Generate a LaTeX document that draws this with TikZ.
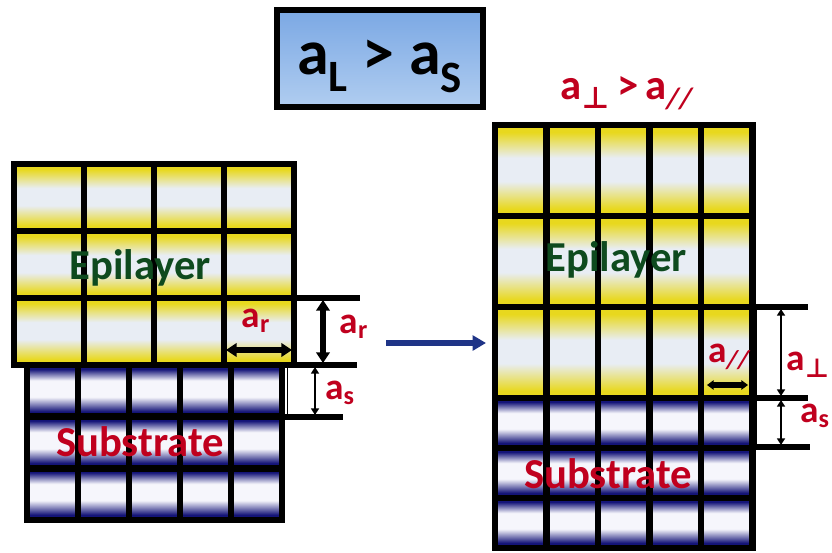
\documentclass[tikz,border=0pt]{standalone}
\usepackage{fontspec}
\setmainfont{Carlito}
\newfontfamily\symfont{DejaVu Sans}
\usetikzlibrary{arrows.meta}
\definecolor{epiY}{HTML}{E8D81E}
\definecolor{epiW}{HTML}{E8EDF4}
\definecolor{subB}{HTML}{141478}
\definecolor{subW}{HTML}{F6F6FC}
\definecolor{labred}{HTML}{C0001E}
\definecolor{epigreen}{HTML}{0E4A1E}
\definecolor{navyarrow}{HTML}{1F3487}
\definecolor{titleA}{HTML}{7BA8E4}
\definecolor{titleB}{HTML}{B0CDF0}
\pgfdeclareverticalshading{epishade}{100bp}{color(0bp)=(epiY); color(25bp)=(epiY); color(29bp)=(epiY); color(44bp)=(epiW); color(57bp)=(epiW); color(71bp)=(epiY); color(75bp)=(epiY); color(100bp)=(epiY)}
\pgfdeclareverticalshading{subshade}{100bp}{color(0bp)=(subB); color(25bp)=(subB); color(30bp)=(subB); color(44bp)=(subW); color(60bp)=(subW); color(71bp)=(subB); color(75bp)=(subB); color(100bp)=(subB)}
\newcommand{\asub}[1]{a\textsubscript{#1}}
\begin{document}
\begin{tikzpicture}[x=0.75pt,y=-0.75pt,
  gridline/.style={line width=5pt,black,line cap=rect},
  dimline/.style={line width=3.8pt,black},
  thinline/.style={line width=0.7pt,black},
  bigarrow/.style={line width=3.8pt,black,{Triangle[length=8pt,width=10pt]}-{Triangle[length=8pt,width=10pt]}},
  medarrow/.style={line width=1.8pt,black,{Triangle[length=5pt,width=6pt]}-{Triangle[length=5pt,width=6pt]}},
  redlab/.style={text=labred,font=\fontsize{28}{30}\selectfont\bfseries,inner sep=0pt},
  biglab/.style={font=\fontsize{32}{36}\selectfont\bfseries,inner sep=0pt}]
\useasboundingbox (0,0) rectangle (832,553);
\fill[white] (0,0) rectangle (832,553);

% title box
\shade[top color=titleA,bottom color=titleB] (277,10) rectangle (483,107);
\draw[line width=4.5pt] (277,10) rectangle (483,107);
\node[font=\fontsize{48}{52}\selectfont\bfseries,inner sep=0pt] (title) at (380,66) {\asub{L} > \asub{S}};

% left epilayer
\foreach \i in {0,...,3}
  \foreach \j in {0,...,2}
    \shade[shading=epishade] (14+70*\i,164+67*\j) rectangle ++(70,67);
% left substrate
\foreach \i in {0,...,4}
  \foreach \j in {0,...,2}
    \shade[shading=subshade] (27+51*\i,365+51.67*\j) rectangle ++(51,51.67);
\foreach \i in {0,...,4}
  \draw[gridline] (14+70*\i,164) -- (14+70*\i,365);
\foreach \j in {0,...,3}
  \draw[gridline] (14,164+67*\j) -- (294,164+67*\j);
\foreach \i in {0,...,5}
  \draw[gridline] (27+51*\i,365) -- (27+51*\i,520);
\foreach \j in {1,...,3}
  \draw[gridline] (27,365+51.67*\j) -- (282,365+51.67*\j);

% right epilayer
\foreach \i in {0,...,4}
  \foreach \j in {0,...,2}
    \shade[shading=epishade] (495+51.5*\i,125+91*\j) rectangle ++(51.5,91);
\foreach \i in {0,...,4}
  \foreach \j in {0,...,2}
    \shade[shading=subshade] (495+51.5*\i,398+50*\j) rectangle ++(51.5,50);
\foreach \i in {0,...,5}
  \draw[gridline] (495+51.5*\i,125) -- (495+51.5*\i,548);
\foreach \j in {0,...,3}
  \draw[gridline] (495,125+91*\j) -- (752.5,125+91*\j);
\foreach \j in {1,...,3}
  \draw[gridline] (495,398+50*\j) -- (752.5,398+50*\j);

% left dimensions
\coordinate (lt1) at (294,298); \coordinate (lt2) at (360,298);
\coordinate (lm1) at (282,365); \coordinate (lm2) at (357,365);
\coordinate (lb1) at (282,417); \coordinate (lb2) at (343,417);
\draw[dimline] (lt1) -- (lt2);
\draw[dimline] (lm1) -- (lm2);
\draw[dimline] (lb1) -- (lb2);
\draw[thinline] (296,298) -- (296,365);
\draw[thinline] (287,365) -- (287,417);
\coordinate (va1) at (323,300); \coordinate (va2) at (323,363);
\draw[bigarrow] (va1) -- (va2);
\coordinate (vs1) at (315,367); \coordinate (vs2) at (315,415);
\draw[medarrow] (vs1) -- (vs2);
\coordinate (ha1) at (226,350); \coordinate (ha2) at (292,350);
\draw[bigarrow] (ha1) -- (ha2);
\node[redlab] (lar1) at (256,321) {\asub{r}};
\node[redlab] (lar2) at (354,327) {\asub{r}};
\node[redlab] (las) at (340,393) {\asub{s}};

% right dimensions
\coordinate (rt1) at (752,307); \coordinate (rt2) at (808,307);
\coordinate (rm1) at (752,398); \coordinate (rm2) at (808,398);
\coordinate (rb1) at (752,447); \coordinate (rb2) at (810,447);
\draw[dimline] (rt1) -- (rt2);
\draw[dimline] (rm1) -- (rm2);
\draw[dimline] (rb1) -- (rb2);
\draw[thinline] (756,307) -- (756,447);
\coordinate (rv1) at (781,309); \coordinate (rv2) at (781,396);
\draw[medarrow] (rv1) -- (rv2);
\coordinate (rs1) at (781,400); \coordinate (rs2) at (781,445);
\draw[medarrow] (rs1) -- (rs2);
\coordinate (rh1) at (707,385); \coordinate (rh2) at (748,385);
\draw[line width=3.8pt,{Triangle[length=5pt,width=7pt]}-{Triangle[length=5pt,width=7pt]}] (rh1) -- (rh2);
\node[redlab] (rpar) at (729,357) {a\textsubscript{\itshape//}};
\node[redlab,anchor=east] (rperp) at (830,365) {a\textsubscript{\symfont\bfseries ⊥}};
\node[redlab,anchor=east] (ras) at (830,416) {\asub{s}};
\node[redlab,font=\fontsize{32}{34}\selectfont\bfseries] (rtop) at (627,93) {a\textsubscript{\symfont\bfseries ⊥}\,>\,a\textsubscript{\itshape//}};

% layer names
\node[biglab,text=epigreen] (epiL) at (140,268) {Epilayer};
\node[biglab,text=epigreen] (epiR) at (616,260) {Epilayer};
\node[biglab,text=labred] (subL) at (140,442) {Substrate};
\node[biglab,text=labred] (subR) at (608,474) {Substrate};

% middle arrow
\coordinate (mA) at (386,343); \coordinate (mB) at (486,343);
\draw[navyarrow,line width=4.5pt,-{Triangle[length=10pt,width=11pt]}] (mA) -- (mB);
\end{tikzpicture}
\end{document}
